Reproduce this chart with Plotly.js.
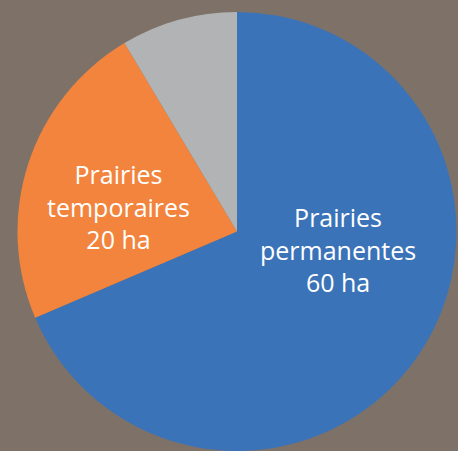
<!DOCTYPE html>
<html>
<head>
<meta charset="utf-8">
<script src="https://cdn.plot.ly/plotly-3.0.1.min.js"></script>
<style>html,body{margin:0;padding:0;background:#7e7268;}</style>
</head>
<body>
<div id="chart" style="width:458px;height:451px;"></div>
<script>
const categories = ["Prairies permanentes", "Prairies temporaires", "Autres"];
const values = [60, 20, 7.5];
const units = "ha";
const showLabel = [true, true, false];
const colors = ["#3b73b9", "#f2843d", "#b1b3b4"];

const labelPos = [
  {x: 0.7295, y: 0.458},
  {x: 0.231, y: 0.556},
  null
];

const annotations = [];
categories.forEach((c, i) => {
  if (!showLabel[i]) return;
  annotations.push({
    xref: "paper", yref: "paper",
    x: labelPos[i].x, y: labelPos[i].y,
    xanchor: "center", yanchor: "middle",
    showarrow: false,
    align: "center",
    text: c.replace(" ", "<br>") + "<br>" + values[i] + " " + units,
    font: {family: "Open Sans", size: 25, color: "#ffffff"}
  });
});

const data = [{
  type: "pie",
  labels: categories,
  values: values,
  sort: false,
  direction: "clockwise",
  rotation: 0,
  textinfo: "none",
  hoverinfo: "label+value",
  marker: {colors: colors, line: {width: 0}},
  showlegend: false
}];

const layout = {
  width: 458, height: 451,
  margin: {l: 17, r: 1, t: 12, b: 0, pad: 0},
  paper_bgcolor: "#7e7268",
  plot_bgcolor: "#7e7268",
  showlegend: false,
  annotations: annotations
};

Plotly.newPlot("chart", data, layout, {displayModeBar: false, staticPlot: true});
</script>
</body>
</html>
